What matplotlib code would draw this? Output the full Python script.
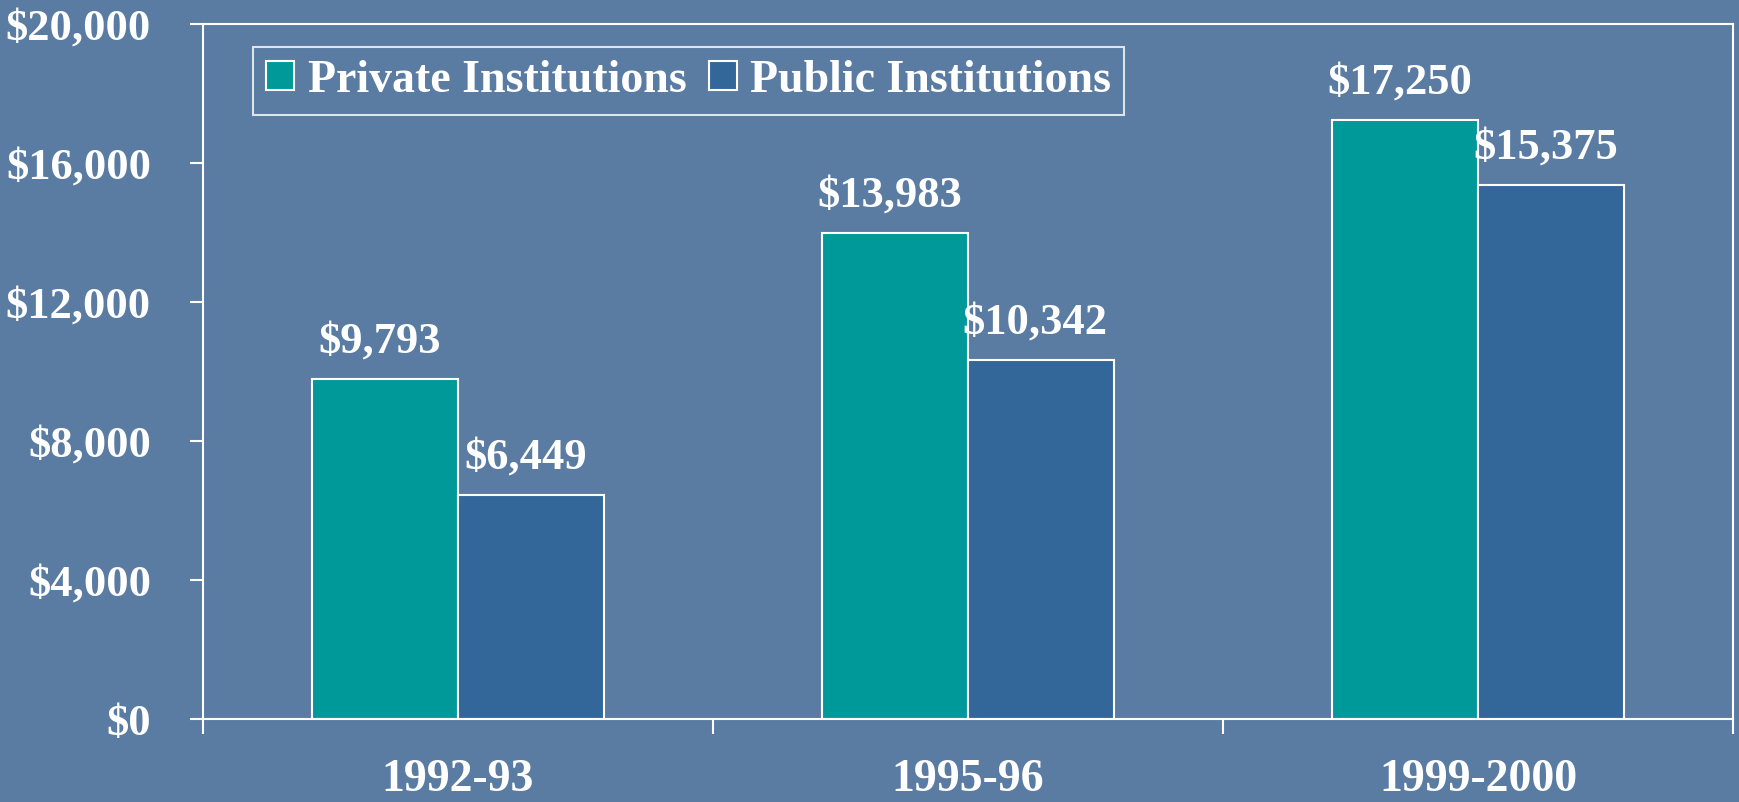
import numpy as np
import matplotlib
matplotlib.use("Agg")
import matplotlib.pyplot as plt
from matplotlib.ticker import FuncFormatter

years = ["1992-93", "1995-96", "1999-2000"]
private = [9793, 13983, 17250]
public = [6449, 10342, 15375]
series_names = ["Private Institutions", "Public Institutions"]
y_ticks = [0, 4000, 8000, 12000, 16000, 20000]

BG = "#5a7ca2"
COLORS = ["#009999", "#336699"]
FONT = dict(family="Liberation Serif", weight="bold", color="white")

plt.rcParams["font.family"] = "Liberation Serif"
plt.rcParams["font.weight"] = "bold"

fig = plt.figure(figsize=(17.4, 8.02), dpi=100, facecolor=BG)
ax = fig.add_axes([203 / 1740, 1 - 719 / 802, 1530 / 1740, 695 / 802])
ax.set_facecolor(BG)

x = np.arange(len(years))
w = 0.286
for i, (vals, name) in enumerate(zip([private, public], series_names)):
    pos = x + (i - 0.5) * w
    ax.bar(pos, vals, width=w, color=COLORS[i], edgecolor="white",
           linewidth=1.5, label=name, zorder=2)
    for xp, v in zip(pos, vals):
        ax.annotate(f"${v:,}", (xp, v), xytext=(-4, 19), textcoords="offset points",
                    ha="center", va="baseline", fontsize=32, **FONT)

ax.set_xlim(-0.5, len(years) - 0.5)
ax.set_ylim(0, 20000)
ax.set_yticks(y_ticks)
ax.yaxis.set_major_formatter(FuncFormatter(lambda v, _: f"${v:,.0f}"))
ax.set_xticks(x)
ax.set_xticklabels(years)
ax.set_xticks(np.arange(len(years) + 1) - 0.5, minor=True)

for sp in ax.spines.values():
    sp.set_color("white")
    sp.set_linewidth(1.5)

ax.tick_params(axis="y", direction="out", length=9.5, width=1.5, color="white",
               pad=28, labelsize=32, labelcolor="white")
ax.tick_params(axis="x", which="major", length=0, pad=29, labelsize=33,
               labelcolor="white")
ax.tick_params(axis="x", which="minor", direction="out", length=11, width=1.5,
               color="white")
for lab in ax.get_xticklabels() + ax.get_yticklabels():
    lab.set_fontweight("bold")

leg = ax.legend(loc="upper left", bbox_to_anchor=(0.033, 0.967), borderaxespad=0,
                ncol=2, frameon=True, fancybox=False, fontsize=33,
                handlelength=0.6, handleheight=0.6, handletextpad=0.3,
                columnspacing=0.5, borderpad=0.28, labelcolor="white")
leg.get_frame().set_facecolor("none")
leg.get_frame().set_edgecolor("white")
leg.get_frame().set_linewidth(1.5)
for t in leg.get_texts():
    t.set_fontweight("bold")

fig.savefig("out.png", dpi=100, facecolor=BG)
